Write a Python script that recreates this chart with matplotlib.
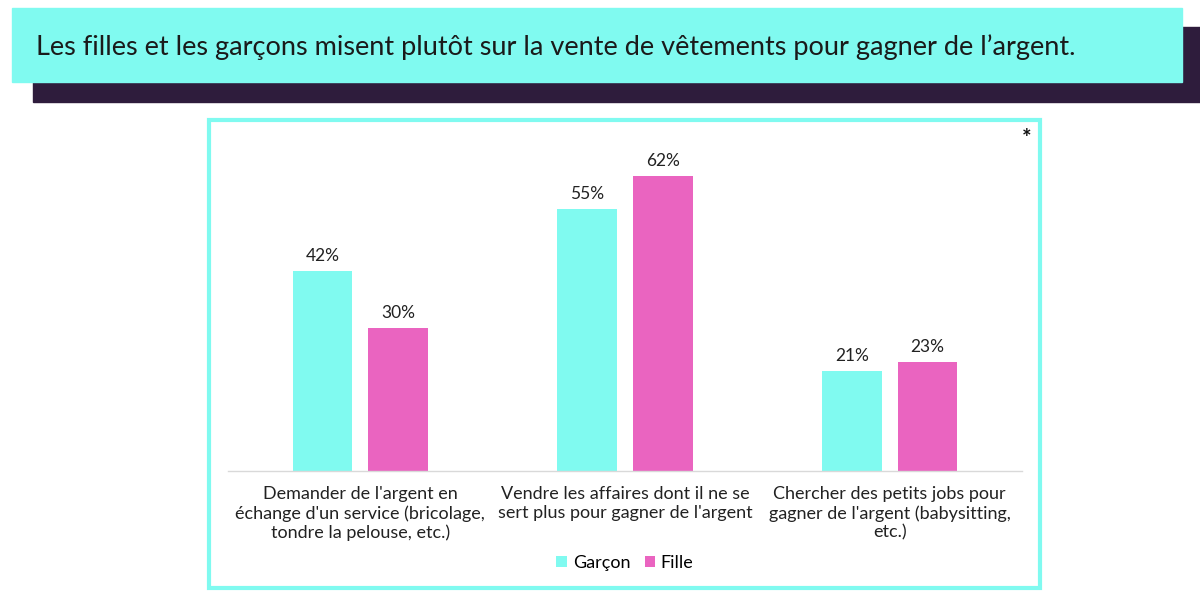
import numpy as np
import matplotlib.pyplot as plt
from matplotlib.patches import Rectangle

plt.rcParams['font.family'] = ['Lato', 'DejaVu Sans']

# Données
categories = [
    "Demander de l'argent en\néchange d'un service (bricolage,\ntondre la pelouse, etc.)",
    "Vendre les affaires dont il ne se\nsert plus pour gagner de l'argent",
    "Chercher des petits jobs pour\ngagner de l'argent (babysitting,\netc.)",
]
garcon = [42, 55, 21]
fille = [30, 62, 23]
series_names = ["Garçon", "Fille"]
titre = "Les filles et les garçons misent plutôt sur la vente de vêtements pour gagner de l’argent."

cyan = '#80faf0'
rose = '#ea64c0'
violet = '#2e1c3c'

W, H = 1200, 592
fig = plt.figure(figsize=(W / 100, H / 100), dpi=100)

def fx(px):
    return px / W

def fy(py):
    return 1 - py / H

# Bandeau du titre
fig.patches.append(Rectangle((fx(33), fy(102)), fx(1200) - fx(33), fy(27) - fy(102),
                             transform=fig.transFigure, color=violet, zorder=0))
fig.patches.append(Rectangle((fx(12), fy(82)), fx(1182) - fx(12), fy(8) - fy(82),
                             transform=fig.transFigure, color=cyan, zorder=1))
fig.text(fx(36), fy(47), titre, fontsize=19.5, color='#1a1a1a', va='center', ha='left', zorder=2)

# Cadre du graphique
fig.patches.append(Rectangle((fx(209), fy(588)), fx(1040) - fx(209), fy(120) - fy(588),
                             transform=fig.transFigure, fill=False, edgecolor=cyan, lw=3, zorder=1))
fig.text(fx(1027), fy(139), '*', fontsize=16, fontweight='bold', ha='center', va='center', color='#111111')

# Axes
ax_top, ax_bot = 150, 471
ax = fig.add_axes([fx(228), fy(ax_bot), fx(1022) - fx(228), fy(ax_top) - fy(ax_bot)])
x = np.arange(len(categories))
w = 0.226
off = 0.143
b1 = ax.bar(x - off, garcon, w, color=cyan, label=series_names[0])
b2 = ax.bar(x + off, fille, w, color=rose, label=series_names[1])
for bars, vals in [(b1, garcon), (b2, fille)]:
    for b, v in zip(bars, vals):
        ax.annotate(f"{v}%", (b.get_x() + b.get_width() / 2, v), xytext=(0, 5),
                    textcoords='offset points', ha='center', va='bottom',
                    fontsize=12.5, color='#222222')

px_per_unit = (471 - 176) / 62
ax.set_ylim(0, (ax_bot - ax_top) / px_per_unit)
ax.set_xlim(-0.5, 2.5)
ax.set_xticks(x)
ax.set_xticklabels(categories, fontsize=13, color='#222222', linespacing=1.22)
ax.tick_params(axis='x', length=0, pad=11)
ax.set_yticks([])
for s in ['top', 'right', 'left']:
    ax.spines[s].set_visible(False)
ax.spines['bottom'].set_color('#d9d9d9')
ax.spines['bottom'].set_linewidth(1)

fig.legend(handles=[b1, b2], loc='center', bbox_to_anchor=(fx(625), fy(563)), ncol=2,
           frameon=False, fontsize=13, handlelength=0.6, handleheight=0.6,
           handletextpad=0.3, columnspacing=0.8)

fig.savefig('out.png', dpi=100)
